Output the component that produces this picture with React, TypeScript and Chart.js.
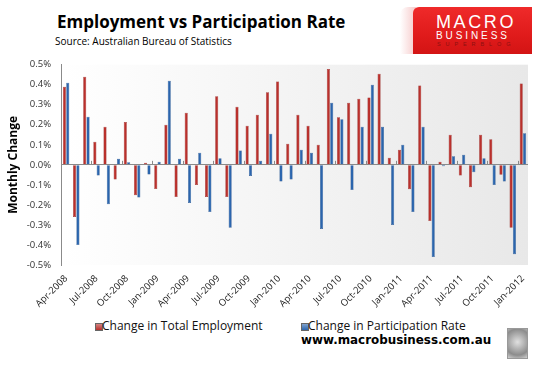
import React, { useEffect, useRef } from 'react';
import { Chart, registerables } from 'chart.js';

Chart.register(...registerables);

const categories = [
  'Apr-2008', 'May-2008', 'Jun-2008', 'Jul-2008', 'Aug-2008', 'Sep-2008', 'Oct-2008', 'Nov-2008', 'Dec-2008',
  'Jan-2009', 'Feb-2009', 'Mar-2009', 'Apr-2009', 'May-2009', 'Jun-2009', 'Jul-2009', 'Aug-2009', 'Sep-2009',
  'Oct-2009', 'Nov-2009', 'Dec-2009', 'Jan-2010', 'Feb-2010', 'Mar-2010', 'Apr-2010', 'May-2010', 'Jun-2010',
  'Jul-2010', 'Aug-2010', 'Sep-2010', 'Oct-2010', 'Nov-2010', 'Dec-2010', 'Jan-2011', 'Feb-2011', 'Mar-2011',
  'Apr-2011', 'May-2011', 'Jun-2011', 'Jul-2011', 'Aug-2011', 'Sep-2011', 'Oct-2011', 'Nov-2011', 'Dec-2011',
  'Jan-2012',
];

const employment = [
  0.39, -0.26, 0.44, 0.115, 0.19, -0.073, 0.214, -0.152, 0.01,
  -0.12, 0.2, -0.16, 0.26, -0.1, -0.16, 0.343, -0.16, 0.29,
  0.195, 0.25, 0.363, 0.416, 0.105, 0.25, 0.195, 0.1, 0.478,
  0.238, 0.31, 0.33, 0.336, 0.455, 0.036, 0.076, -0.122, 0.396,
  -0.28, 0.016, 0.15, -0.053, -0.112, 0.15, 0.128, -0.05, -0.314,
  0.406,
];

const participation = [
  0.41, -0.4, 0.24, -0.053, -0.197, 0.03, 0.013, -0.163, -0.048,
  0.016, 0.42, 0.03, -0.19, 0.06, -0.235, 0.033, -0.314, 0.072,
  -0.056, 0.02, 0.155, -0.083, -0.073, 0.076, 0.06, -0.32, 0.31,
  0.228, -0.126, 0.19, 0.4, 0.19, -0.3, 0.1, -0.235, 0.19,
  -0.46, -0.007, 0.043, 0.05, -0.037, 0.033, -0.1, -0.083, -0.446,
  0.158,
];

const seriesNames = ['Change in Total Employment', 'Change in Participation Rate'];
const yMin = -0.5;
const yMax = 0.5;
const yStep = 0.1;
const labelEvery = 3;

const RED = '#b9302c';
const BLUE = '#2b65ad';

export default function App() {
  const ref = useRef<HTMLCanvasElement>(null);

  useEffect(() => {
    if (!ref.current) return;
    const bgPlugin = {
      id: 'bgGrad',
      beforeDraw(chart: any) {
        const { ctx, chartArea: a } = chart;
        const g = ctx.createLinearGradient(a.left, 0, a.right, 0);
        g.addColorStop(0, '#ffffff');
        g.addColorStop(1, '#e8e8e8');
        ctx.save();
        ctx.fillStyle = g;
        ctx.fillRect(a.left, a.top, a.right - a.left, a.bottom - a.top);
        ctx.restore();
      },
    };
    const zeroTicks = {
      id: 'zeroTicks',
      afterDatasetsDraw(chart: any) {
        const { ctx } = chart;
        const xs = chart.scales.x;
        const ys = chart.scales.y;
        const y0 = ys.getPixelForValue(0);
        ctx.save();
        ctx.strokeStyle = '#8a8a8a';
        ctx.lineWidth = 1;
        for (let i = labelEvery; i < categories.length; i += labelEvery) {
          const x = Math.round((xs.getPixelForValue(i - 1) + xs.getPixelForValue(i)) / 2) + 0.5;
          ctx.beginPath();
          ctx.moveTo(x, y0);
          ctx.lineTo(x, y0 - 4);
          ctx.stroke();
        }
        ctx.restore();
      },
    };
    const chart = new Chart(ref.current, {
      type: 'bar',
      data: {
        labels: categories,
        datasets: [
          {
            label: seriesNames[0],
            data: employment,
            backgroundColor: RED,
            borderColor: '#8e1f1c',
            borderWidth: 0.5,
            categoryPercentage: 0.66,
            barPercentage: 0.92,
          },
          {
            label: seriesNames[1],
            data: participation,
            backgroundColor: BLUE,
            borderColor: '#1c4a85',
            borderWidth: 0.5,
            categoryPercentage: 0.66,
            barPercentage: 0.92,
          },
        ],
      },
      options: {
        responsive: false,
        animation: false,
        layout: { padding: { top: 0, right: 13, left: 0, bottom: 0 } },
        plugins: {
          legend: { display: false },
          tooltip: { enabled: false },
          title: { display: false },
        },
        scales: {
          x: {
            grid: { display: false },
            border: { display: false },
            ticks: {
              autoSkip: false,
              maxRotation: 45,
              minRotation: 45,
              padding: 0,
              color: '#222',
              font: { family: 'Open Sans', size: 9.5 },
              callback: (_v: any, i: number) => (i % labelEvery === 0 ? categories[i] : ''),
            },
            afterFit: (s: any) => {
              s.height = 50;
            },
          },
          y: {
            min: yMin,
            max: yMax,
            border: { display: true, color: '#8a8a8a' },
            grid: {
              drawTicks: false,
              color: (c: any) => (c.tick && Math.abs(c.tick.value) < 1e-9 ? '#8a8a8a' : 'rgba(0,0,0,0)'),
            },
            ticks: {
              stepSize: yStep,
              padding: 10,
              color: '#333',
              font: { family: 'Open Sans', size: 9.5 },
              callback: (v: any) => (Math.round(Number(v) * 10) / 10).toFixed(1) + '%',
            },
            title: {
              display: true,
              text: 'Monthly Change',
              color: '#000',
              padding: { top: 6, bottom: 0 },
              font: { family: 'Open Sans', size: 12, weight: 'bold' },
            },
            afterFit: (s: any) => {
              s.width = 61;
            },
          },
        },
      },
      plugins: [bgPlugin, zeroTicks],
    });
    return () => chart.destroy();
  }, []);

  const sq = (c: string, left: number): React.CSSProperties => ({
    position: 'absolute',
    left,
    top: 323,
    width: 6,
    height: 6,
    background: `linear-gradient(180deg, ${c}99, ${c})`,
    border: '0.5px solid #666',
  });

  return (
    <div style={{ position: 'absolute', left: 0, top: 0, width: 541, height: 369, background: '#fff', overflow: 'hidden', fontFamily: 'Open Sans' }}>
      <div style={{ position: 'absolute', left: 57, top: 10, fontSize: 17, fontWeight: 'bold', color: '#000', whiteSpace: 'nowrap' }}>
        Employment vs Participation Rate
      </div>
      <div style={{ position: 'absolute', left: 55, top: 34, fontSize: 10, color: '#000', whiteSpace: 'nowrap' }}>
        Source: Australian Bureau of Statistics
      </div>
      <div style={{ position: 'absolute', left: 400, top: 7, width: 16, height: 47, background: 'linear-gradient(90deg, #ffffff, #f6caca)', borderTopLeftRadius: 8 }} />
      <div style={{ position: 'absolute', left: 413, top: 7, width: 119, height: 47, background: 'linear-gradient(180deg, #ef2a2a 0%, #e01b1b 60%, #d31414 100%)', borderTopLeftRadius: 6, color: '#fff', fontFamily: 'Liberation Sans' }}>
        <div style={{ position: 'absolute', left: 23, top: 5, fontSize: 18, letterSpacing: 2.6, lineHeight: '20px', whiteSpace: 'nowrap' }}>MACRO</div>
        <div style={{ position: 'absolute', left: 23, top: 23, fontSize: 10, letterSpacing: 2.9, lineHeight: '12px', whiteSpace: 'nowrap' }}>BUSINESS</div>
        <div style={{ position: 'absolute', left: 24, top: 34, fontSize: 5.5, letterSpacing: 4.9, lineHeight: '7px', color: '#8e1010', whiteSpace: 'nowrap' }}>SUPERBLOG</div>
      </div>
      <canvas ref={ref} width={541} height={266} style={{ position: 'absolute', left: 0, top: 49, width: 541, height: 266 }} />
      <div style={sq(RED, 95)} />
      <div style={{ position: 'absolute', left: 102, top: 317, fontSize: 12, lineHeight: '17px', color: '#111', whiteSpace: 'nowrap' }}>{seriesNames[0]}</div>
      <div style={sq(BLUE, 301)} />
      <div style={{ position: 'absolute', left: 308, top: 317, fontSize: 12, lineHeight: '17px', color: '#111', whiteSpace: 'nowrap' }}>{seriesNames[1]}</div>
      <div style={{ position: 'absolute', left: 301, top: 333, fontSize: 11.9, lineHeight: '15px', fontWeight: 'bold', fontFamily: 'DejaVu Sans', color: '#000', whiteSpace: 'nowrap' }}>
        www.macrobusiness.com.au
      </div>
      <div style={{ position: 'absolute', left: 507, top: 328, width: 19, height: 29, border: '1px solid #999', background: 'radial-gradient(circle at 50% 45%, #e0e0e0, #8c8c8c 70%, #d0d0d0)' }} />
    </div>
  );
}
